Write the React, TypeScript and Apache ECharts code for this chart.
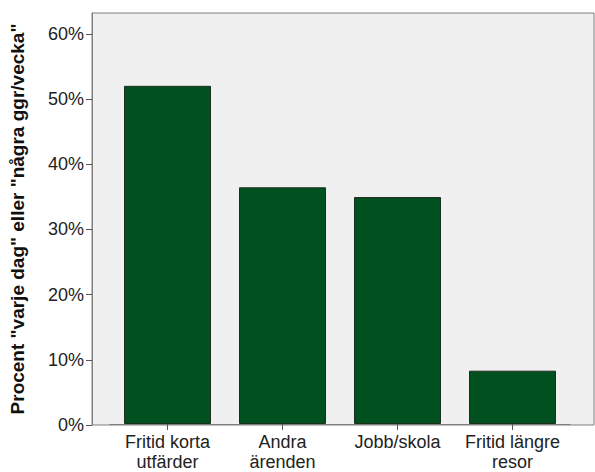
import React, { useEffect, useRef } from "react";
import * as echarts from "echarts";

const categories = ["Fritid korta\nutfärder", "Andra\närenden", "Jobb/skola", "Fritid längre\nresor"];
const values = [52.0, 36.4, 34.9, 8.2];
const yTicks = [0, 10, 20, 30, 40, 50, 60];
const yTitle = 'Procent "varje dag" eller "några ggr/vecka"';

export default function App() {
  const ref = useRef<HTMLDivElement>(null);
  useEffect(() => {
    document.body.style.margin = "0";
    const chart = echarts.init(ref.current!, null, { renderer: "svg" });
    const font = "'Liberation Sans', Arial, sans-serif";
    const yMax = 63.2;
    chart.setOption({
      animation: false,
      textStyle: { fontFamily: font },
      grid: [
        {
          left: 83, top: 13, width: 511, height: 412,
          show: true, backgroundColor: "#f0f0f0", borderColor: "#7f7f7f", borderWidth: 1,
        },
        { left: 110, top: 13, width: 460, height: 412 },
      ],
      xAxis: [
        { gridIndex: 0, type: "value", show: false, min: 0, max: 1 },
        {
          gridIndex: 1, type: "category", data: categories,
          axisLine: { show: true, lineStyle: { color: "#7f7f7f" } },
          axisTick: { show: true, alignWithLabel: true, length: 6, lineStyle: { color: "#555" } },
          axisLabel: { color: "#222", fontSize: 18, lineHeight: 20, margin: 8, fontFamily: font, interval: 0 },
        },
      ],
      yAxis: [
        {
          gridIndex: 0, type: "value", min: 0, max: yMax, interval: 10,
          splitLine: { show: false },
          axisLine: { show: true, lineStyle: { color: "#7f7f7f" } },
          axisTick: { show: true, length: 6, customValues: yTicks, lineStyle: { color: "#555" } },
          axisLabel: {
            color: "#222", fontSize: 18, margin: 8, fontFamily: font,
            customValues: yTicks,
            formatter: (v: number) => `${v}%`,
          },
          name: yTitle, nameLocation: "middle", nameRotate: 90, nameGap: 65,
          nameTextStyle: { color: "#111", fontSize: 19, fontWeight: "bold", fontFamily: font },
        },
        { gridIndex: 1, type: "value", min: 0, max: yMax, show: false, splitLine: { show: false } },
      ],
      series: [
        {
          type: "bar", xAxisIndex: 1, yAxisIndex: 1, data: values, barWidth: 87,
          itemStyle: { color: "#005020", borderColor: "#1e2e1e", borderWidth: 1 },
        },
      ],
    });
    return () => chart.dispose();
  }, []);
  return <div ref={ref} style={{ width: 595, height: 472 }} />;
}
